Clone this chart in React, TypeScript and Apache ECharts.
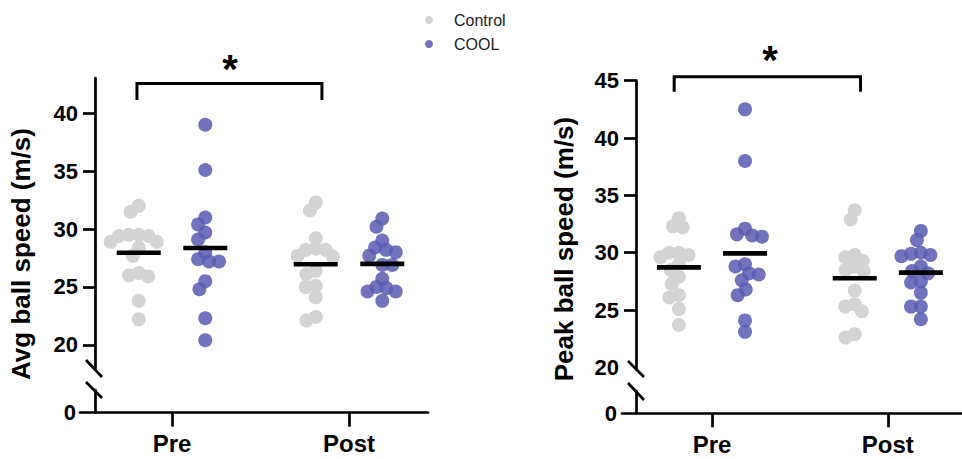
import React, { useEffect, useRef } from 'react';
import * as echarts from 'echarts';

// ---------- data ----------
const groups = ['Pre', 'Post'];
const seriesNames = ['Control', 'COOL'];

const avgControlPre = [32.0, 31.5, 29.4, 29.5, 29.4, 29.5, 28.9, 28.9, 28.4, 27.7, 25.9, 26.2, 26.0, 23.8, 22.2];
const avgCoolPre = [39.0, 35.1, 31.0, 30.4, 29.7, 29.1, 28.0, 27.2, 27.4, 27.2, 25.5, 24.8, 22.3, 20.4];
const avgControlPost = [32.3, 31.6, 29.2, 28.2, 28.2, 28.3, 27.7, 27.6, 26.4, 26.1, 25.1, 25.0, 24.1, 22.1, 22.4];
const avgCoolPost = [30.9, 30.2, 29.0, 28.4, 28.0, 28.2, 27.7, 26.9, 26.9, 25.7, 25.0, 24.9, 24.6, 24.6, 23.8];

const peakControlPre = [33.0, 32.2, 32.3, 30.0, 29.6, 29.8, 30.0, 29.0, 28.5, 27.9, 27.3, 26.1, 26.3, 25.1, 23.7];
const peakCoolPre = [42.5, 38.0, 31.6, 32.1, 31.4, 31.5, 29.0, 28.8, 28.2, 28.1, 27.6, 26.8, 26.3, 24.1, 23.1];
const peakControlPost = [33.7, 32.9, 29.8, 29.6, 29.3, 28.8, 28.5, 28.4, 26.7, 25.3, 25.5, 24.9, 22.6, 22.9];
const peakCoolPost = [31.9, 31.1, 29.8, 30.0, 29.9, 29.7, 28.8, 28.4, 28.2, 27.5, 27.4, 26.5, 25.3, 25.3, 24.2];

const avgLabelTicks = [20, 25, 30, 35, 40];
const avgTickMarks = [20, 25, 30, 35, 40];
const peakLabelTicks = [20, 25, 30, 35, 40, 45];
const peakTickMarks = [25, 30, 35, 40, 45];
const zeroTicks = [0];

const avgTitle = 'Avg ball speed (m/s)';
const peakTitle = 'Peak ball speed (m/s)';
const sigMark = '*';

// ---------- styling ----------
const FONT = "'Liberation Sans', Arial, Helvetica, sans-serif";
const CONTROL_COLOR = '#D3D3D3';
const COOL_COLOR = 'rgba(88,92,178,0.85)';
const AXIS_W = 2.7;
const GROUP_SHIFT = 0.188;

function mean(a: number[]) {
  return a.reduce((s, v) => s + v, 0) / a.length;
}

function swarmOffsets(values: number[], pyPerUnit: number, pxPerUnit: number, d: number): number[] {
  const order = values.map((_, i) => i).sort((a, b) => values[b] - values[a]);
  const placed: { x: number; y: number }[] = [];
  const out = new Array(values.length).fill(0);
  for (const i of order) {
    const y = values[i] * pyPerUnit;
    const cands = [0];
    for (const p of placed) {
      const dy = Math.abs(p.y - y);
      if (dy < d) {
        const dx = Math.sqrt(d * d - dy * dy);
        cands.push(p.x + dx, p.x - dx);
      }
    }
    cands.sort((a, b) => Math.abs(a) - Math.abs(b) || a - b);
    let best = 0;
    for (const c of cands) {
      if (placed.every((p) => (p.x - c) ** 2 + (p.y - y) ** 2 >= d * d - 1e-6)) {
        best = c;
        break;
      }
    }
    placed.push({ x: best, y });
    out[i] = best / pxPerUnit;
  }
  return out;
}

type Panel = {
  controlPre: number[];
  coolPre: number[];
  controlPost: number[];
  coolPost: number[];
  pyPerUnit: number;
  pxPerUnit: number;
};

function groupPoints(values: number[], center: number, p: Panel) {
  const off = swarmOffsets(values, p.pyPerUnit, p.pxPerUnit, 10);
  return values.map((v, i) => [center + off[i], v]);
}

function buildPanelSeries(p: Panel, xIdx: number, bracket: number[][]) {
  const controlData = [
    ...groupPoints(p.controlPre, 1 - GROUP_SHIFT, p),
    ...groupPoints(p.controlPost, 2 - GROUP_SHIFT, p),
  ];
  const coolData = [
    ...groupPoints(p.coolPre, 1 + GROUP_SHIFT, p),
    ...groupPoints(p.coolPost, 2 + GROUP_SHIFT, p),
  ];
  const means = [
    [1 - GROUP_SHIFT, mean(p.controlPre)],
    [1 + GROUP_SHIFT, mean(p.coolPre)],
    [2 - GROUP_SHIFT, mean(p.controlPost)],
    [2 + GROUP_SHIFT, mean(p.coolPost)],
  ];
  return [
    {
      name: seriesNames[0],
      type: 'scatter',
      xAxisIndex: xIdx,
      yAxisIndex: xIdx,
      symbol: 'circle',
      symbolSize: 14,
      itemStyle: { color: CONTROL_COLOR, opacity: 1 },
      data: controlData,
      z: 2,
      silent: true,
    },
    {
      name: seriesNames[1],
      type: 'scatter',
      xAxisIndex: xIdx,
      yAxisIndex: xIdx,
      symbol: 'circle',
      symbolSize: 14,
      itemStyle: { color: COOL_COLOR, opacity: 1 },
      data: coolData,
      z: 3,
      silent: true,
    },
    {
      name: 'mean',
      type: 'scatter',
      xAxisIndex: xIdx,
      yAxisIndex: xIdx,
      symbol: 'rect',
      symbolSize: [44, 4.6],
      itemStyle: { color: '#000', opacity: 1 },
      data: means,
      z: 5,
      silent: true,
    },
    {
      name: 'bracket',
      type: 'line',
      xAxisIndex: xIdx,
      yAxisIndex: xIdx,
      symbol: 'none',
      clip: false,
      lineStyle: { color: '#000', width: 3, join: 'miter', cap: 'butt', opacity: 1 },
      data: bracket,
      z: 5,
      silent: true,
    },
  ];
}

function axisPair(
  gridIdx: number,
  xmin: number,
  xmax: number,
  ymin: number,
  ymax: number,
  yOffset: number,
  labelVals: number[],
  tickVals: number[],
  lower: boolean
) {
  const line = { color: '#000', width: AXIS_W };
  const x: any = {
    type: 'value',
    gridIndex: gridIdx,
    min: xmin,
    max: xmax,
    show: lower,
    splitLine: { show: false },
    axisLine: { show: lower, onZero: false, lineStyle: line },
    axisTick: { show: lower, length: 14, customValues: [1, 2], lineStyle: line },
    axisLabel: {
      show: lower,
      customValues: [1, 2],
      formatter: (v: number) => groups[Math.round(v) - 1] ?? '',
      margin: 19,
      fontSize: 24,
      fontWeight: 'bold',
      fontFamily: FONT,
      color: '#000',
    },
  };
  const y: any = {
    type: 'value',
    gridIndex: gridIdx,
    min: ymin,
    max: ymax,
    offset: yOffset,
    splitLine: { show: false },
    axisLine: { show: true, onZero: false, lineStyle: line },
    axisTick: { show: tickVals.length > 0, length: 12, customValues: tickVals, lineStyle: line },
    axisLabel: {
      customValues: labelVals,
      margin: lower ? 19 : 17,
      fontSize: 22,
      fontWeight: 'bold',
      fontFamily: FONT,
      color: '#000',
    },
  };
  return { x, y };
}

export default function App() {
  const ref = useRef<HTMLDivElement>(null);

  useEffect(() => {
    if (!ref.current) return;
    const chart = echarts.init(ref.current, undefined, { renderer: 'svg' });

    const left: Panel = {
      controlPre: avgControlPre,
      coolPre: avgCoolPre,
      controlPost: avgControlPost,
      coolPost: avgCoolPost,
      pyPerUnit: 11.58,
      pxPerUnit: 177,
    };
    const right: Panel = {
      controlPre: peakControlPre,
      coolPre: peakCoolPre,
      controlPost: peakControlPost,
      coolPost: peakCoolPost,
      pyPerUnit: 11.47,
      pxPerUnit: 178.4,
    };

    // x-axis extents (value units, Pre = 1, Post = 2)
    const lxMin = 1 - 92 / 177;
    const lxMax = 1 + 256 / 177;
    const rxMin = 1 - 91.3 / 178.4;
    const rxMax = 1 + 253.7 / 178.4;

    const a0 = axisPair(0, lxMin, lxMax, 18, 43.04, -15, avgLabelTicks, avgTickMarks, false);
    const a1 = axisPair(1, lxMin, lxMax, 0, 1, -15, zeroTicks, [], true);
    const a2 = axisPair(2, rxMin, rxMax, 19.8, 45, -14, peakLabelTicks, peakTickMarks, false);
    const a3 = axisPair(3, rxMin, rxMax, 0, 1, -14, zeroTicks, [], true);

    const leftBracket = [
      [0.802, 41.14],
      [0.802, 42.57],
      [1.847, 42.57],
      [1.847, 41.14],
    ];
    const rightBracket = [
      [0.785, 44.04],
      [0.785, 45.35],
      [1.845, 45.35],
      [1.845, 44.04],
    ];

    const slash = (x1: number, y1: number, x2: number, y2: number) => ({
      type: 'line',
      shape: { x1, y1, x2, y2 },
      style: { stroke: '#000', lineWidth: AXIS_W },
      silent: true,
    });

    const option: any = {
      animation: false,
      backgroundColor: '#fff',
      textStyle: { fontFamily: FONT },
      legend: {
        orient: 'vertical',
        left: 420,
        top: 7,
        itemWidth: 40,
        itemHeight: 8,
        itemGap: 8,
        icon: 'circle',
        selectedMode: false,
        data: seriesNames,
        textStyle: { fontSize: 16, color: '#222', fontFamily: FONT },
      },
      grid: [
        { left: 80, width: 348, top: 78, height: 290 },
        { left: 80, width: 348, top: 390, height: 22.7 },
        { left: 622, width: 345, top: 80.7, height: 289 },
        { left: 622, width: 345, top: 391, height: 22.3 },
      ],
      xAxis: [a0.x, a1.x, a2.x, a3.x],
      yAxis: [a0.y, a1.y, a2.y, a3.y],
      series: [
        ...buildPanelSeries(left, 0, leftBracket),
        ...buildPanelSeries(right, 2, rightBracket),
      ],
      graphic: [
        {
          type: 'text',
          x: 21,
          y: 254,
          rotation: Math.PI / 2,
          style: {
            text: avgTitle,
            fontSize: 26,
            fontWeight: 'bold',
            fontFamily: FONT,
            fill: '#000',
            align: 'center',
            verticalAlign: 'middle',
          },
        },
        {
          type: 'text',
          x: 564,
          y: 249,
          rotation: Math.PI / 2,
          style: {
            text: peakTitle,
            fontSize: 26,
            fontWeight: 'bold',
            fontFamily: FONT,
            fill: '#000',
            align: 'center',
            verticalAlign: 'middle',
          },
        },
        {
          type: 'text',
          x: 230,
          y: 69,
          style: {
            text: sigMark,
            fontSize: 40,
            fontWeight: 'bold',
            fontFamily: FONT,
            fill: '#000',
            align: 'center',
            verticalAlign: 'middle',
          },
        },
        {
          type: 'text',
          x: 770,
          y: 60,
          style: {
            text: sigMark,
            fontSize: 40,
            fontWeight: 'bold',
            fontFamily: FONT,
            fill: '#000',
            align: 'center',
            verticalAlign: 'middle',
          },
        },
        slash(86, 360, 102, 377),
        slash(86, 382, 102, 398),
        slash(628, 361, 644, 377),
        slash(628, 383, 644, 400),
      ],
    };

    chart.setOption(option);
    return () => chart.dispose();
  }, []);

  return (
    <div
      ref={ref}
      style={{ position: 'absolute', left: 0, top: 0, width: 962, height: 459, background: '#fff' }}
    />
  );
}
